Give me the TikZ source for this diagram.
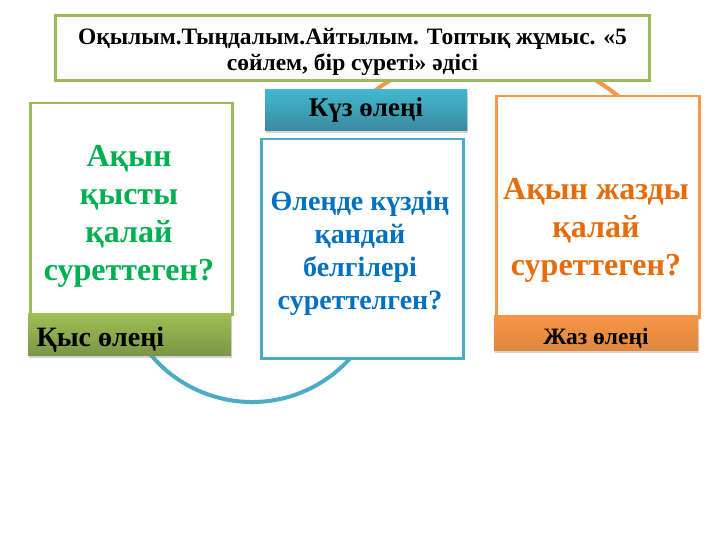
\documentclass[tikz,border=0pt]{standalone}
\usepackage{fontspec}
\setmainfont{Liberation Serif}
\usetikzlibrary{shadows}
\definecolor{olivegreen}{HTML}{9BBB59}
\definecolor{seablue}{HTML}{4BACC6}
\definecolor{peach}{HTML}{F79646}
\definecolor{wintertext}{HTML}{00B050}
\definecolor{autumntext}{HTML}{0070C0}
\definecolor{summertext}{HTML}{E46C0A}
\newcommand{\fs}[2]{\fontsize{#1}{#2}\selectfont\bfseries}

\begin{document}
\begin{tikzpicture}[x=1pt,y=-1pt,
    box/.style={draw, line width=2.5pt, fill=white, inner sep=0pt},
    bar/.style={inner sep=0pt, drop shadow={opacity=.35, shadow xshift=1pt, shadow yshift=-3pt}},
    arcline/.style={line width=4pt}]
  \useasboundingbox (0,0) rectangle (720,540);
  % arcs behind the boxes
  \draw[arcline, peach] (493,252) ++(-140:200) arc[start angle=-140, end angle=-40, radius=200];
  \draw[arcline, seablue] (252,270) ++(150:132) arc[start angle=150, end angle=30, radius=132];
  %% title
  \node[box, draw=olivegreen, minimum width=594pt, minimum height=65pt] (title) at (352.5,48) {};
  \node[align=center, font=\fs{23.5}{26}] (titletxt) at (352.5,52) {Оқылым.Тыңдалым.Айтылым. Топтық жұмыс. «5\\ сөйлем, бір суреті» әдісі};
  %% winter
  \node[box, draw=olivegreen, minimum width=202pt, minimum height=211pt, anchor=north west] (winter) at (29,102) {};
  \node[bar, top color=olivegreen!95!yellow, bottom color=olivegreen!80!black, minimum width=203pt, minimum height=42pt, anchor=north west] (winterlbl) at (28,313) {};
  \node[anchor=west, font=\fs{28}{30}] (winterlbltxt) at (33,340) {Қыс өлеңі};
  \node[align=center, text=wintertext, font=\fs{32}{38}] (winterq) at (129,216) {Ақын\\ қысты\\ қалай\\ суреттеген?};
  %% autumn
  \node[box, draw=seablue, minimum width=202pt, minimum height=219pt, anchor=north west] (autumn) at (260,138) {};
  \node[bar, top color=seablue!85!cyan, bottom color=seablue!80!black, minimum width=202pt, minimum height=41pt, font=\fs{27}{30}] (autumnlbl) at (366,110) {Күз өлеңі};
  \node[align=center, text=autumntext, font=\fs{28}{33}] (autumnq) at (360,253) {Өлеңде күздің\\ қандай\\ белгілері\\ суреттелген?};
  %% summer
  \node[box, draw=peach, minimum width=203pt, minimum height=221pt, anchor=north west] (summer) at (495,95) {};
  \node[bar, top color=peach, bottom color=peach!90!black, minimum width=204pt, minimum height=35pt, anchor=north west] (summerlbl) at (494,315) {};
  \node[font=\fs{23.5}{26}] (summerlbltxt) at (596,338) {Жаз өлеңі};
  \node[align=center, text=summertext, font=\fs{32}{38}] (summerq) at (596,230) {Ақын жазды\\ қалай\\ суреттеген?};
\end{tikzpicture}
\end{document}
